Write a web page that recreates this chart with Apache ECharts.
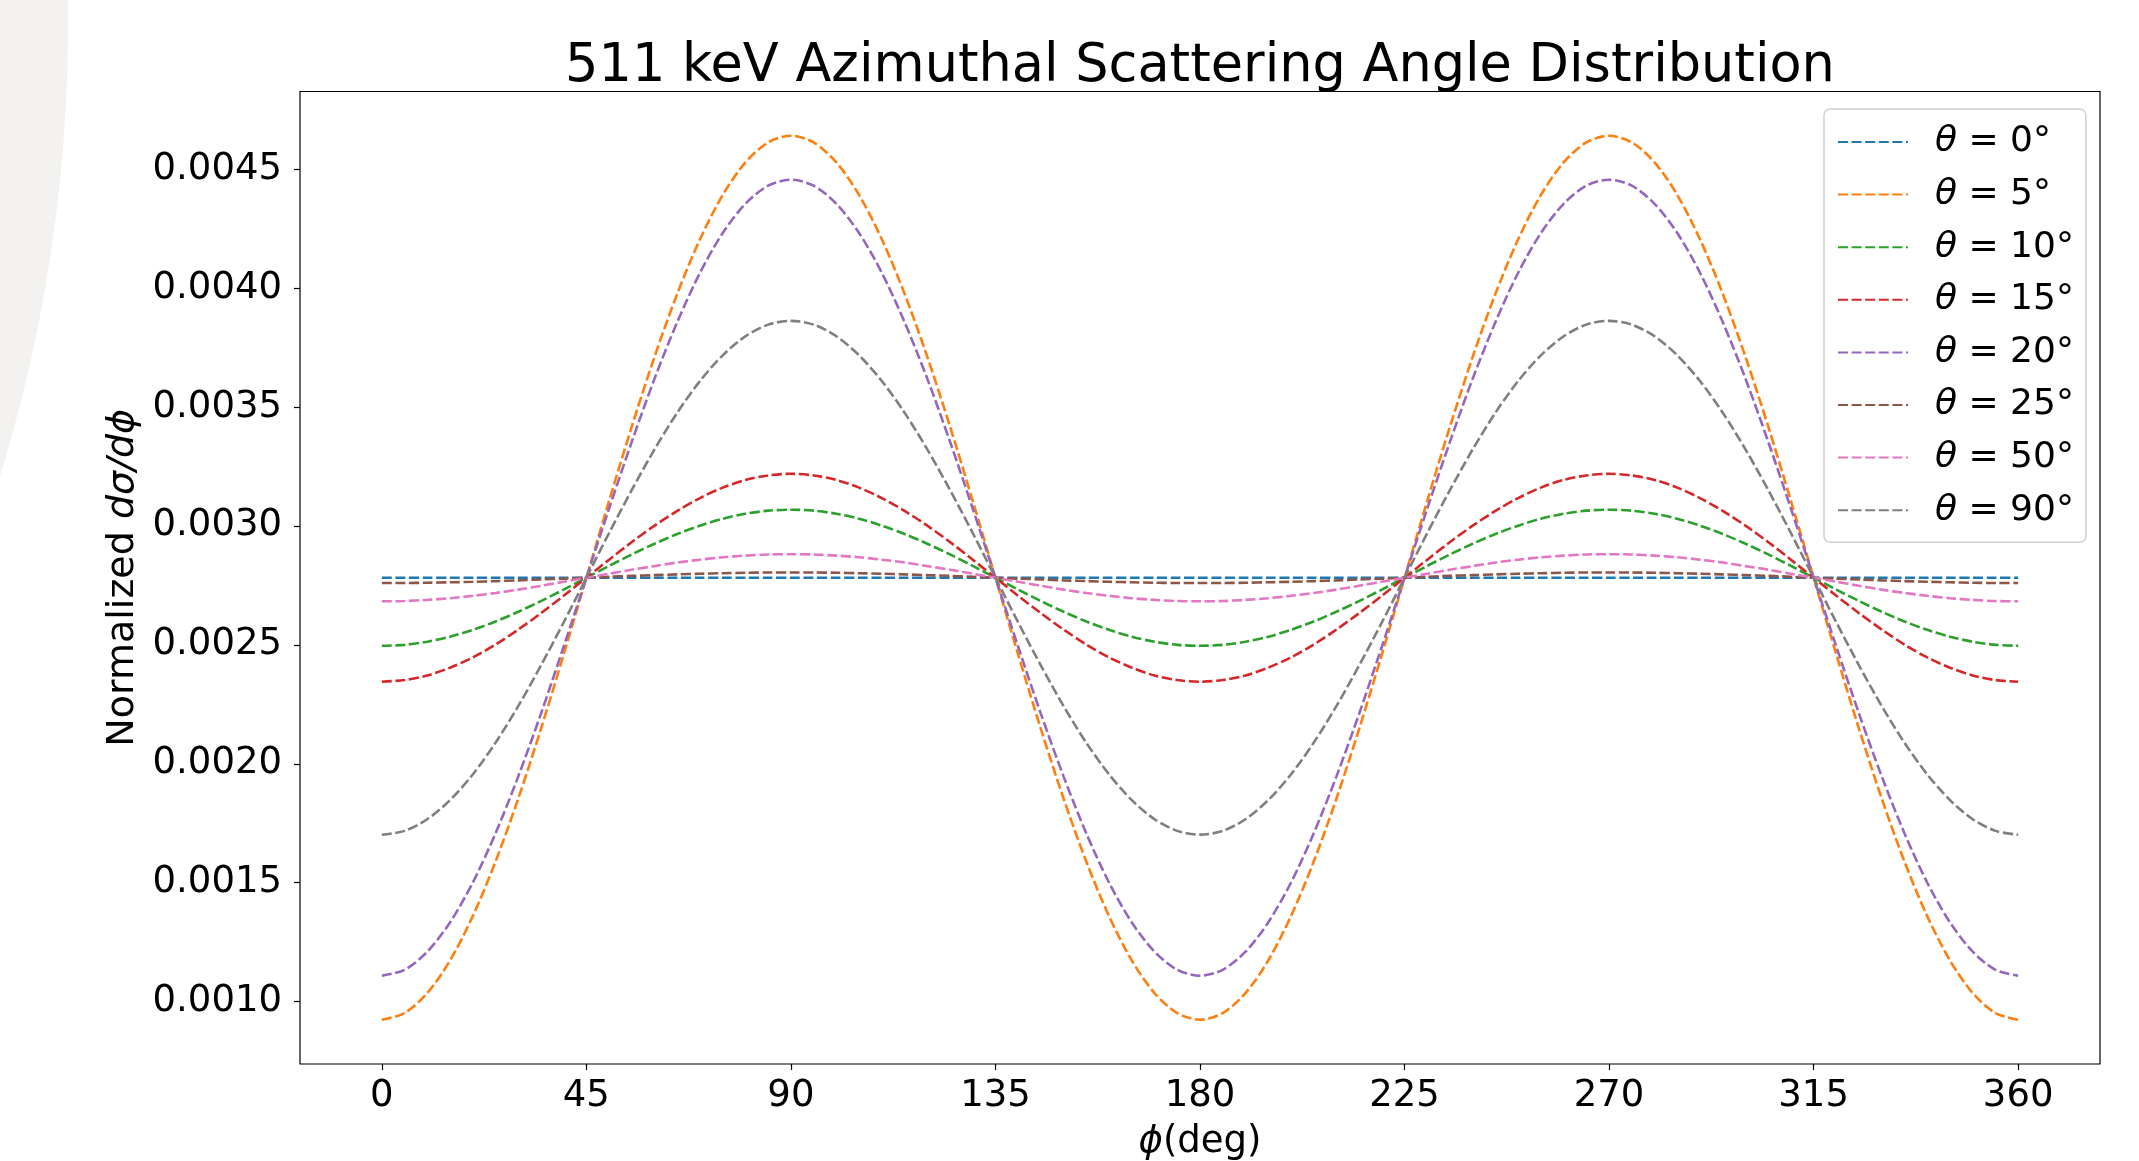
<!DOCTYPE html>
<html>
<head>
<meta charset="utf-8">
<script src="https://cdn.jsdelivr.net/npm/echarts@6/dist/echarts.min.js"></script>
<style>
html,body{margin:0;padding:0;background:#ffffff;}
#c{width:2139px;height:1161px;}
</style>
</head>
<body>
<div id="c"></div>
<script>
// ---- data, phi in degrees, step 5 ----
const phi = [0,5,10,15,20,25,30,35,40,45,50,55,60,65,70,75,80,85,90,95,100,105,110,115,120,125,130,135,140,145,150,155,160,165,170,175,180,185,190,195,200,205,210,215,220,225,230,235,240,245,250,255,260,265,270,275,280,285,290,295,300,305,310,315,320,325,330,335,340,345,350,355,360];
const thetaLabels = ['0','5','10','15','20','25','50','90'];
const xTicks = [0,45,90,135,180,225,270,315,360];
const yTicks = [0.0010,0.0015,0.0020,0.0025,0.0030,0.0035,0.0040,0.0045];

const theta0 = [0.002782,0.002782,0.002782,0.002782,0.002782,0.002782,0.002782,0.002782,0.002782,0.002782,0.002782,0.002782,0.002782,0.002782,0.002782,0.002782,0.002782,0.002782,0.002782,0.002782,0.002782,0.002782,0.002782,0.002782,0.002782,0.002782,0.002782,0.002782,0.002782,0.002782,0.002782,0.002782,0.002782,0.002782,0.002782,0.002782,0.002782,0.002782,0.002782,0.002782,0.002782,0.002782,0.002782,0.002782,0.002782,0.002782,0.002782,0.002782,0.002782,0.002782,0.002782,0.002782,0.002782,0.002782,0.002782,0.002782,0.002782,0.002782,0.002782,0.002782,0.002782,0.002782,0.002782,0.002782,0.002782,0.002782,0.002782,0.002782,0.002782,0.002782,0.002782,0.002782,0.002782];
const theta5 = [0.000924,0.000952,0.001036,0.001173,0.001359,0.001588,0.001853,0.002146,0.002459,0.002782,0.003105,0.003418,0.003711,0.003976,0.004205,0.004391,0.004528,0.004612,0.004640,
  0.004612,0.004528,0.004391,0.004205,0.003976,0.003711,0.003418,0.003105,0.002782,0.002459,0.002146,0.001853,0.001588,0.001359,0.001173,0.001036,0.000952,0.000924,
  0.000952,0.001036,0.001173,0.001359,0.001588,0.001853,0.002146,0.002459,0.002782,0.003105,0.003418,0.003711,0.003976,0.004205,0.004391,0.004528,0.004612,0.004640,
  0.004612,0.004528,0.004391,0.004205,0.003976,0.003711,0.003418,0.003105,0.002782,0.002459,0.002146,0.001853,0.001588,0.001359,0.001173,0.001036,0.000952,0.000924];
const theta10 = [0.002496,0.002500,0.002513,0.002534,0.002563,0.002598,0.002639,0.002684,0.002732,0.002782,0.002832,0.002880,0.002925,0.002966,0.003001,0.003030,0.003051,0.003064,0.003068,
  0.003064,0.003051,0.003030,0.003001,0.002966,0.002925,0.002880,0.002832,0.002782,0.002732,0.002684,0.002639,0.002598,0.002563,0.002534,0.002513,0.002500,0.002496,
  0.002500,0.002513,0.002534,0.002563,0.002598,0.002639,0.002684,0.002732,0.002782,0.002832,0.002880,0.002925,0.002966,0.003001,0.003030,0.003051,0.003064,0.003068,
  0.003064,0.003051,0.003030,0.003001,0.002966,0.002925,0.002880,0.002832,0.002782,0.002732,0.002684,0.002639,0.002598,0.002563,0.002534,0.002513,0.002500,0.002496];
const theta15 = [0.002345,0.002352,0.002371,0.002404,0.002447,0.002501,0.002564,0.002633,0.002706,0.002782,0.002858,0.002932,0.003001,0.003063,0.003117,0.003161,0.003193,0.003212,0.003219,
  0.003212,0.003193,0.003161,0.003117,0.003063,0.003001,0.002932,0.002858,0.002782,0.002706,0.002633,0.002564,0.002501,0.002447,0.002404,0.002371,0.002352,0.002345,
  0.002352,0.002371,0.002404,0.002447,0.002501,0.002564,0.002633,0.002706,0.002782,0.002858,0.002932,0.003001,0.003063,0.003117,0.003161,0.003193,0.003212,0.003219,
  0.003212,0.003193,0.003161,0.003117,0.003063,0.003001,0.002932,0.002858,0.002782,0.002706,0.002633,0.002564,0.002501,0.002447,0.002404,0.002371,0.002352,0.002345];
const theta20 = [0.001109,0.001134,0.001210,0.001333,0.001500,0.001707,0.001946,0.002210,0.002492,0.002782,0.003073,0.003354,0.003619,0.003857,0.004064,0.004231,0.004354,0.004430,0.004455,
  0.004430,0.004354,0.004231,0.004064,0.003857,0.003619,0.003354,0.003073,0.002782,0.002492,0.002210,0.001946,0.001707,0.001500,0.001333,0.001210,0.001134,0.001109,
  0.001134,0.001210,0.001333,0.001500,0.001707,0.001946,0.002210,0.002492,0.002782,0.003073,0.003354,0.003619,0.003857,0.004064,0.004231,0.004354,0.004430,0.004455,
  0.004430,0.004354,0.004231,0.004064,0.003857,0.003619,0.003354,0.003073,0.002782,0.002492,0.002210,0.001946,0.001707,0.001500,0.001333,0.001210,0.001134,0.001109];
const theta25 = [0.002760,0.002760,0.002761,0.002763,0.002765,0.002768,0.002771,0.002775,0.002778,0.002782,0.002786,0.002790,0.002793,0.002796,0.002799,0.002801,0.002803,0.002804,0.002804,
  0.002804,0.002803,0.002801,0.002799,0.002796,0.002793,0.002790,0.002786,0.002782,0.002778,0.002775,0.002771,0.002768,0.002765,0.002763,0.002761,0.002760,0.002760,
  0.002760,0.002761,0.002763,0.002765,0.002768,0.002771,0.002775,0.002778,0.002782,0.002786,0.002790,0.002793,0.002796,0.002799,0.002801,0.002803,0.002804,0.002804,
  0.002804,0.002803,0.002801,0.002799,0.002796,0.002793,0.002790,0.002786,0.002782,0.002778,0.002775,0.002771,0.002768,0.002765,0.002763,0.002761,0.002760,0.002760];
const theta50 = [0.002683,0.002684,0.002689,0.002696,0.002706,0.002718,0.002732,0.002748,0.002765,0.002782,0.002799,0.002816,0.002831,0.002846,0.002858,0.002868,0.002875,0.002880,0.002881,
  0.002880,0.002875,0.002868,0.002858,0.002846,0.002831,0.002816,0.002799,0.002782,0.002765,0.002748,0.002732,0.002718,0.002706,0.002696,0.002689,0.002684,0.002683,
  0.002684,0.002689,0.002696,0.002706,0.002718,0.002732,0.002748,0.002765,0.002782,0.002799,0.002816,0.002831,0.002846,0.002858,0.002868,0.002875,0.002880,0.002881,
  0.002880,0.002875,0.002868,0.002858,0.002846,0.002831,0.002816,0.002799,0.002782,0.002765,0.002748,0.002732,0.002718,0.002706,0.002696,0.002689,0.002684,0.002683];
const theta90 = [0.001702,0.001718,0.001767,0.001847,0.001955,0.002088,0.002242,0.002413,0.002594,0.002782,0.002970,0.003151,0.003322,0.003476,0.003609,0.003717,0.003797,0.003846,0.003862,
  0.003846,0.003797,0.003717,0.003609,0.003476,0.003322,0.003151,0.002970,0.002782,0.002594,0.002413,0.002242,0.002088,0.001955,0.001847,0.001767,0.001718,0.001702,
  0.001718,0.001767,0.001847,0.001955,0.002088,0.002242,0.002413,0.002594,0.002782,0.002970,0.003151,0.003322,0.003476,0.003609,0.003717,0.003797,0.003846,0.003862,
  0.003846,0.003797,0.003717,0.003609,0.003476,0.003322,0.003151,0.002970,0.002782,0.002594,0.002413,0.002242,0.002088,0.001955,0.001847,0.001767,0.001718,0.001702];

const colors = ['#1f77b4','#ff7f0e','#2ca02c','#d62728','#9467bd','#8c564b','#e377c2','#7f7f7f'];
const seriesValues = [theta0, theta5, theta10, theta15, theta20, theta25, theta50, theta90];

// ---- chart ----
const FONT = 'DejaVu Sans';
const chart = echarts.init(document.getElementById('c'), null, {renderer: 'canvas'});

const series = seriesValues.map((vals, i) => ({
  name: 'θ = ' + thetaLabels[i] + '°',
  type: 'line',
  data: phi.map((p, j) => [p, vals[j]]),
  symbol: 'none',
  showSymbol: false,
  smooth: 0.3,
  silent: true,
  lineStyle: {color: colors[i], width: 2.6, type: [10, 3.6]},
  itemStyle: {color: colors[i]},
  emphasis: {disabled: true}
}));

const option = {
  animation: false,
  backgroundColor: '#ffffff',
  graphic: [{
    type: 'circle',
    shape: {cx: -1463, cy: 25, r: 1531},
    style: {fill: '#f3f2f0'},
    silent: true,
    z: -10
  }],
  title: {
    text: '511 keV Azimuthal Scattering Angle Distribution',
    left: 1195,
    textAlign: 'center',
    top: 36,
    textStyle: {fontFamily: FONT, fontSize: 52.5, fontWeight: 'normal', color: '#000'}
  },
  grid: {
    left: 300, right: 39, top: 91.5, bottom: 97,
    outerBoundsMode: 'none',
    containLabel: false,
    show: true, borderColor: '#000', borderWidth: 1.2, backgroundColor: 'rgba(0,0,0,0)'
  },
  legend: {
    orient: 'vertical',
    left: 1824, top: 109,
    itemWidth: 70, itemHeight: 4, itemGap: 16.6,
    padding: [15, 12, 14, 13],
    borderColor: '#d0d0d0', borderWidth: 1.5, borderRadius: 6,
    backgroundColor: 'rgba(255,255,255,0.8)',
    selectedMode: false,
    itemStyle: {color: 'rgba(0,0,0,0)', borderColor: 'rgba(0,0,0,0)', borderWidth: 0, opacity: 0},
    formatter: n => '{sp|}{i|θ}{t| = ' + n.split('= ')[1] + '}',
    textStyle: {
      fontFamily: FONT, fontSize: 36, color: '#000',
      rich: {
        sp: {width: 22},
        i: {fontFamily: FONT, fontStyle: 'italic', fontSize: 36, lineHeight: 40, color: '#000'},
        t: {fontFamily: FONT, fontSize: 36, lineHeight: 40, color: '#000'}
      }
    }
  },
  xAxis: {
    type: 'value', min: -18, max: 378,
    axisLine: {show: false, onZero: false},
    splitLine: {show: false},
    axisTick: {show: true, length: 6, customValues: xTicks, lineStyle: {color: '#000', width: 1.2}},
    axisLabel: {customValues: xTicks, fontFamily: FONT, fontSize: 37, color: '#000', margin: 14},
    name: '{i|ϕ}(deg)',
    nameLocation: 'middle', nameGap: 60,
    nameTextStyle: {fontFamily: FONT, fontSize: 37, color: '#000',
      rich: {i: {fontFamily: FONT, fontStyle: 'italic', fontSize: 37, color: '#000'}}}
  },
  yAxis: {
    type: 'value', min: 0.000738, max: 0.004826,
    axisLine: {show: false, onZero: false},
    splitLine: {show: false},
    axisTick: {show: true, length: 6, customValues: yTicks, lineStyle: {color: '#000', width: 1.2}},
    axisLabel: {customValues: yTicks, formatter: v => v.toFixed(4), fontFamily: FONT, fontSize: 37, color: '#000', margin: 18, padding: [13, 0, 0, 0]},
    name: 'Normalized {i|dσ/dϕ}',
    nameLocation: 'middle', nameGap: 158, nameRotate: 90,
    nameTextStyle: {fontFamily: FONT, fontSize: 38, color: '#000',
      rich: {i: {fontFamily: FONT, fontStyle: 'italic', fontSize: 38, color: '#000'}}}
  },
  series: series
};
chart.setOption(option);
</script>
</body>
</html>
